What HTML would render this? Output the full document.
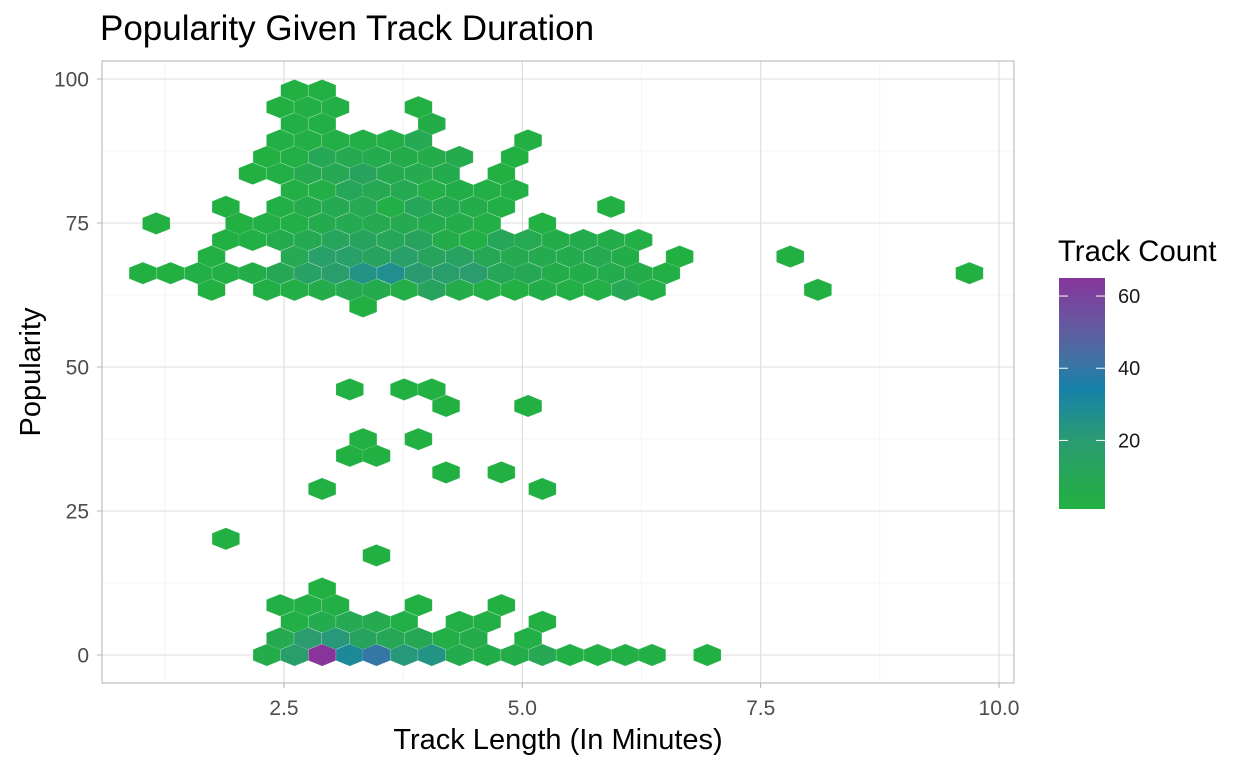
<!DOCTYPE html>
<html><head><meta charset="utf-8"><style>
html,body{margin:0;padding:0;background:#fff;}
svg{display:block;font-family:"Liberation Sans",sans-serif;}
</style></head><body>
<svg id="chart" width="1248" height="768" viewBox="0 0 1248 768" xmlns="http://www.w3.org/2000/svg">
<text x="100" y="40" font-size="35" fill="#000">Popularity Given Track Duration</text>
<rect x="102" y="61" width="912" height="622" fill="#fff"/>
<g id="grid"></g>
<g id="hexes"></g>
<rect x="102" y="61" width="912" height="622" fill="none" stroke="#b3b3b3" stroke-width="1"/>
<g id="axes"></g>
<text x="558" y="749" font-size="29" text-anchor="middle" fill="#000">Track Length (In Minutes)</text>
<text transform="translate(40,372) rotate(-90)" font-size="29" text-anchor="middle" fill="#000">Popularity</text>
<g id="legend">
<text x="1058" y="261" font-size="29.3" fill="#000">Track Count</text>
<defs><linearGradient id="lg" x1="0" y1="1" x2="0" y2="0"></linearGradient></defs>
<rect x="1059" y="278" width="46" height="231" fill="url(#lg)"/>
</g>
</svg>
<script>
// ---- data ----
const xTicks = [2.5, 5.0, 7.5, 10.0];
const xTickLabels = ["2.5", "5.0", "7.5", "10.0"];
const yTicks = [0, 25, 50, 75, 100];
const yTickLabels = ["0", "25", "50", "75", "100"];
const legendTicks = [20, 40, 60];
const legendTickLabels = ["20", "40", "60"];
// hex bin centres (minutes, popularity) and counts
const hexX = [
 // pop 0
 2.32,2.61,2.90,3.19,3.47,3.76,4.05,4.34,4.63,4.92,5.21,5.50,5.79,6.08,6.36,6.94,
 // pop 2.9
 2.46,2.75,3.04,3.33,3.62,3.91,4.20,4.49,5.06,
 // pop 5.8
 2.61,2.90,3.19,3.47,3.76,4.34,4.63,5.21,
 // pop 8.6
 2.46,2.75,3.04,3.91,4.78,
 // sparse middle
 2.90,3.47,1.89,2.90,5.21,4.20,4.78,3.19,3.47,3.33,3.91,4.20,5.06,3.19,3.76,4.05,3.33,
 // pop 63.4
 1.74,2.32,2.61,2.90,3.19,3.47,3.76,4.05,4.34,4.63,4.92,5.21,5.50,5.79,6.08,6.36,8.10,
 // pop 66.3
 1.02,1.31,1.60,1.89,2.17,2.46,2.75,3.04,3.33,3.62,3.91,4.20,4.49,4.78,5.06,5.35,5.64,5.93,6.22,6.51,9.69,
 // pop 69.2
 1.74,2.61,2.90,3.19,3.47,3.76,4.05,4.34,4.63,4.92,5.21,5.50,5.79,6.08,6.65,7.81,
 // pop 72.1
 1.89,2.17,2.46,2.75,3.04,3.33,3.62,3.91,4.20,4.49,4.78,5.06,5.35,5.64,5.93,6.22,
 // pop 74.9
 1.16,2.03,2.32,2.61,2.90,3.19,3.47,3.76,4.05,4.34,4.63,5.21,
 // pop 77.8
 1.89,2.46,2.75,3.04,3.33,3.62,3.91,4.20,4.49,4.78,5.93,
 // pop 80.7
 2.61,2.90,3.19,3.47,3.76,4.05,4.34,4.63,4.92,
 // pop 83.6
 2.17,2.46,2.75,3.04,3.33,3.62,3.91,4.20,4.78,
 // pop 86.5
 2.32,2.61,2.90,3.19,3.47,3.76,4.05,4.34,4.92,
 // pop 89.3
 2.46,2.75,3.04,3.33,3.62,3.91,5.06,
 // pop 92.2
 2.61,2.90,4.05,
 // pop 95.1
 2.46,2.75,3.04,3.91,
 // pop 98.0
 2.61,2.90
];
const hexY = [
 0,0,0,0,0,0,0,0,0,0,0,0,0,0,0,0,
 2.88,2.88,2.88,2.88,2.88,2.88,2.88,2.88,2.88,
 5.76,5.76,5.76,5.76,5.76,5.76,5.76,5.76,
 8.65,8.65,8.65,8.65,8.65,
 11.53,17.29,20.17,28.82,28.82,31.70,31.70,34.58,34.58,37.47,37.47,43.23,43.23,46.11,46.11,46.11,60.52,
 63.40,63.40,63.40,63.40,63.40,63.40,63.40,63.40,63.40,63.40,63.40,63.40,63.40,63.40,63.40,63.40,63.40,
 66.29,66.29,66.29,66.29,66.29,66.29,66.29,66.29,66.29,66.29,66.29,66.29,66.29,66.29,66.29,66.29,66.29,66.29,66.29,66.29,66.29,
 69.17,69.17,69.17,69.17,69.17,69.17,69.17,69.17,69.17,69.17,69.17,69.17,69.17,69.17,69.17,69.17,
 72.05,72.05,72.05,72.05,72.05,72.05,72.05,72.05,72.05,72.05,72.05,72.05,72.05,72.05,72.05,72.05,
 74.93,74.93,74.93,74.93,74.93,74.93,74.93,74.93,74.93,74.93,74.93,74.93,
 77.81,77.81,77.81,77.81,77.81,77.81,77.81,77.81,77.81,77.81,77.81,
 80.69,80.69,80.69,80.69,80.69,80.69,80.69,80.69,80.69,
 83.58,83.58,83.58,83.58,83.58,83.58,83.58,83.58,83.58,
 86.46,86.46,86.46,86.46,86.46,86.46,86.46,86.46,86.46,
 89.34,89.34,89.34,89.34,89.34,89.34,89.34,
 92.22,92.22,92.22,
 95.11,95.11,95.11,95.11,
 97.99,97.99
];
const hexCount = [
 5,18,65,30,40,22,25,6,4,5,9,2,2,2,2,1,
 7,19,22,13,10,10,3,5,2,
 2,6,8,7,2,2,2,1,
 2,2,2,1,1,
 1,1,1,1,1,1,1,1,1,1,1,1,1,1,1,1,1,
 1,2,3,5,7,6,3,13,5,3,1,4,2,2,9,2,1,
 1,1,2,2,4,10,15,18,25,27,20,18,19,11,10,4,4,6,5,2,1,
 1,9,17,16,13,16,13,14,10,7,7,6,7,4,1,1,
 1,2,6,8,12,13,11,13,5,2,11,8,4,6,5,2,
 1,1,2,2,6,8,7,7,6,5,2,1,
 1,2,6,8,9,2,11,7,5,2,1,
 2,3,11,9,8,3,4,2,2,
 1,2,7,9,13,7,7,6,1,
 1,2,10,7,6,5,5,6,1,
 2,2,3,3,3,8,1,
 2,2,4,
 1,2,2,1,
 1,1
];
// ---- scales ----
const X0 = 2.5, X0px = 284, XperPx = 95.333;
const Y0px = 655, YperPx = 5.76;
function sx(v){ return X0px + (v - X0) * XperPx; }
function sy(v){ return Y0px - v * YperPx; }
const binW = 0.289, binH = 2.882;
const cMin = 1, cMax = 65;
const stops = [[0,[34,176,67]],[0.14,[38,167,86]],[0.3,[42,155,114]],[0.42,[31,142,146]],[0.52,[21,128,168]],[0.64,[63,115,163]],[0.8,[102,88,160]],[1,[135,53,154]]];
function colorOf(c){
  let t = (c - cMin)/(cMax - cMin); t = Math.max(0, Math.min(1, t));
  for (let i=1;i<stops.length;i++){
    if (t <= stops[i][0]){
      const a=stops[i-1], b=stops[i], f=(t-a[0])/(b[0]-a[0]);
      const r=a[1].map((v,j)=>Math.round(v+(b[1][j]-v)*f));
      return 'rgb('+r.join(',')+')';
    }
  }
  return 'rgb(135,53,154)';
}
const NS = 'http://www.w3.org/2000/svg';
function mk(tag, attrs){ const e=document.createElementNS(NS,tag); for (const k in attrs) e.setAttribute(k, attrs[k]); return e; }
// ---- grid ----
const grid = document.getElementById('grid');
const minorX = [1.25, 3.75, 6.25, 8.75];
const minorY = [12.5, 37.5, 62.5, 87.5];
minorX.forEach(v=>{ const l=mk('line',{x1:sx(v),x2:sx(v),y1:61,y2:683,stroke:'#ececec','stroke-width':0.6});

 grid.appendChild(l); });
minorY.forEach(v=>{ const l=mk('line',{x1:102,x2:1014,y1:sy(v),y2:sy(v),stroke:'#ececec','stroke-width':0.6});

 grid.appendChild(l); });
xTicks.forEach(v=>{ const l=mk('line',{x1:sx(v),x2:sx(v),y1:61,y2:683,stroke:'#dcdcdc','stroke-width':1.1});

 grid.appendChild(l); });
yTicks.forEach(v=>{ const l=mk('line',{x1:102,x2:1014,y1:sy(v),y2:sy(v),stroke:'#dcdcdc','stroke-width':1.1});

 grid.appendChild(l); });
// ---- hexes ----
const hg = document.getElementById('hexes');
const hw = binW/2*XperPx, hh = binH*2/3*YperPx;
for (let i=0;i<hexX.length;i++){
  const cx=sx(hexX[i]), cy=sy(hexY[i]);
  const pts=[[cx,cy-hh],[cx+hw,cy-hh/2],[cx+hw,cy+hh/2],[cx,cy+hh],[cx-hw,cy+hh/2],[cx-hw,cy-hh/2]].map(p=>p[0].toFixed(2)+','+p[1].toFixed(2)).join(' ');
  const p = mk('polygon',{points:pts,fill:colorOf(hexCount[i]),stroke:'rgba(255,255,255,0.22)','stroke-width':0.6});
  
  
  hg.appendChild(p);
}
// ---- axes ----
const ax = document.getElementById('axes');
xTicks.forEach((v,i)=>{
  const t=mk('line',{x1:sx(v),x2:sx(v),y1:683,y2:688,stroke:'#b3b3b3','stroke-width':1});
  
   ax.appendChild(t);
  const l=mk('text',{x:sx(v),y:715,'font-size':21,'text-anchor':'middle',fill:'#4d4d4d'});
  l.textContent=xTickLabels[i];
  
   ax.appendChild(l);
});
yTicks.forEach((v,i)=>{
  const t=mk('line',{x1:97,x2:102,y1:sy(v),y2:sy(v),stroke:'#b3b3b3','stroke-width':1});
  
   ax.appendChild(t);
  const l=mk('text',{x:89,y:sy(v)+7.5,'font-size':21,'text-anchor':'end',fill:'#4d4d4d'});
  l.textContent=yTickLabels[i];
  
   ax.appendChild(l);
});
// ---- legend ----
const lg = document.getElementById('lg');
stops.forEach(s=>{ const st=mk('stop',{offset:s[0],'stop-color':'rgb('+s[1].join(',')+')'}); lg.appendChild(st); });
const leg = document.getElementById('legend');
const LB=509, LT=278;
function ly(v){ return LB - (v-cMin)/(cMax-cMin)*(LB-LT); }
legendTicks.forEach((v,i)=>{
  const a=mk('line',{x1:1059,x2:1068,y1:ly(v),y2:ly(v),stroke:'#fff','stroke-width':1});
  
   leg.appendChild(a);
  const b=mk('line',{x1:1096,x2:1105,y1:ly(v),y2:ly(v),stroke:'#fff','stroke-width':1});
  
   leg.appendChild(b);
  const l=mk('text',{x:1118,y:ly(v)+7,'font-size':20,fill:'#1a1a1a'});
  l.textContent=legendTickLabels[i];
  
   leg.appendChild(l);
});
</script>
</body></html>
